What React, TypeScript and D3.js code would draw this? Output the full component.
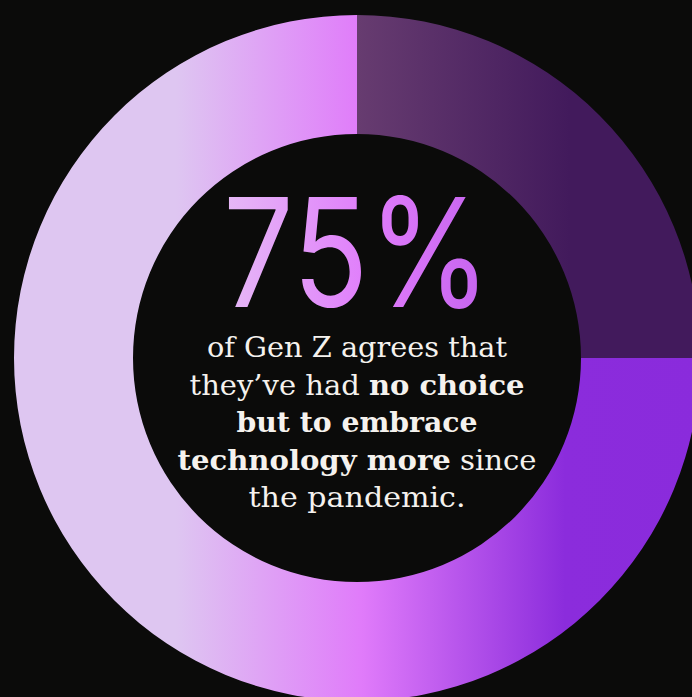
import React, { useEffect, useRef } from "react";
import * as d3 from "d3";

const W = 692;
const H = 697;

// Data
const categories = ["No choice but to embrace technology", "Other"];
const values = [75, 25];
const headline = "75%";
const lines: { text: string; bold: boolean }[][] = [
  [{ text: "of Gen Z agrees that", bold: false }],
  [
    { text: "they\u2019ve had ", bold: false },
    { text: "no choice", bold: true },
  ],
  [{ text: "but to embrace", bold: true }],
  [
    { text: "technology more", bold: true },
    { text: " since", bold: false },
  ],
  [{ text: "the pandemic.", bold: false }],
];
const lineWidths = [300, 335, 241, 359, 217];

export default function App() {
  const ref = useRef<SVGSVGElement>(null);

  useEffect(() => {
    const svg = d3.select(ref.current);
    svg.selectAll("*").remove();

    const cx = 357;
    const cy = 358;
    const outerR = 343;
    const innerR = 224;

    const defs = svg.append("defs");
    const mkGrad = (id: string, stops: [number, string][], x1: number, x2: number) => {
      const g = defs
        .append("linearGradient")
        .attr("id", id)
        .attr("gradientUnits", "userSpaceOnUse")
        .attr("x1", x1)
        .attr("x2", x2)
        .attr("y1", 0)
        .attr("y2", 0);
      stops.forEach(([o, c]) => g.append("stop").attr("offset", o).attr("stop-color", c));
    };
    mkGrad(
      "gLight",
      [
        [0, "#dec6f1"],
        [(176 - 14) / (700 - 14), "#dec6f1"],
        [(362 - 14) / (700 - 14), "#e07bfa"],
        [(565 - 14) / (700 - 14), "#8b2cdc"],
        [1, "#8a2bdc"],
      ],
      14 - cx,
      700 - cx
    );
    mkGrad(
      "gDark",
      [
        [0, "#673c70"],
        [1, "#421a5c"],
      ],
      0,
      570 - cx
    );
    mkGrad(
      "gText",
      [
        [0, "#e6baf6"],
        [0.55, "#e07cfb"],
        [1, "#c463ee"],
      ],
      222,
      492
    );

    svg.append("rect").attr("width", W).attr("height", H).attr("fill", "#0b0b0a");

    const pie = d3
      .pie<number>()
      .sort(null)
      .value((d) => d)
      .startAngle(Math.PI / 2)
      .endAngle(Math.PI / 2 + 2 * Math.PI);
    const arcs = pie(values);
    const arc = d3.arc<d3.PieArcDatum<number>>().innerRadius(innerR).outerRadius(outerR);

    const g = svg.append("g").attr("transform", `translate(${cx},${cy})`);
    g.selectAll("path")
      .data(arcs)
      .join("path")
      .attr("d", arc)
      .attr("fill", (_d, i) => (i === 0 ? "url(#gLight)" : "url(#gDark)"))
      .append("title")
      .text((_d, i) => `${categories[i]}: ${values[i]}%`);

    svg
      .append("text")
      .attr("x", cx)
      .attr("y", 307)
      .attr("text-anchor", "middle")
      .attr("font-family", "Inter, 'Open Sans', sans-serif")
      .attr("font-weight", 400)
      .attr("font-size", 151)
      .attr("textLength", 268)
      .attr("lengthAdjust", "spacingAndGlyphs")
      .attr("fill", "url(#gText)")
      .text(headline);

    const baselines = [357, 394.5, 432, 469.5, 507];
    lines.forEach((ln, i) => {
      const t = svg
        .append("text")
        .attr("x", cx)
        .attr("y", baselines[i])
        .attr("text-anchor", "middle")
        .attr("font-family", "'DejaVu Serif', serif")
        .attr("font-size", 28)
        .attr("fill", "#f5f2ee")
        .attr("textLength", lineWidths[i])
        .attr("lengthAdjust", "spacingAndGlyphs");
      ln.forEach((s) => {
        t.append("tspan")
          .attr("font-weight", s.bold ? 700 : 400)
          .text(s.text);
      });
    });
  }, []);

  return (
    <svg
      ref={ref}
      width={W}
      height={H}
      style={{ position: "fixed", left: 0, top: 0, display: "block" }}
    />
  );
}
